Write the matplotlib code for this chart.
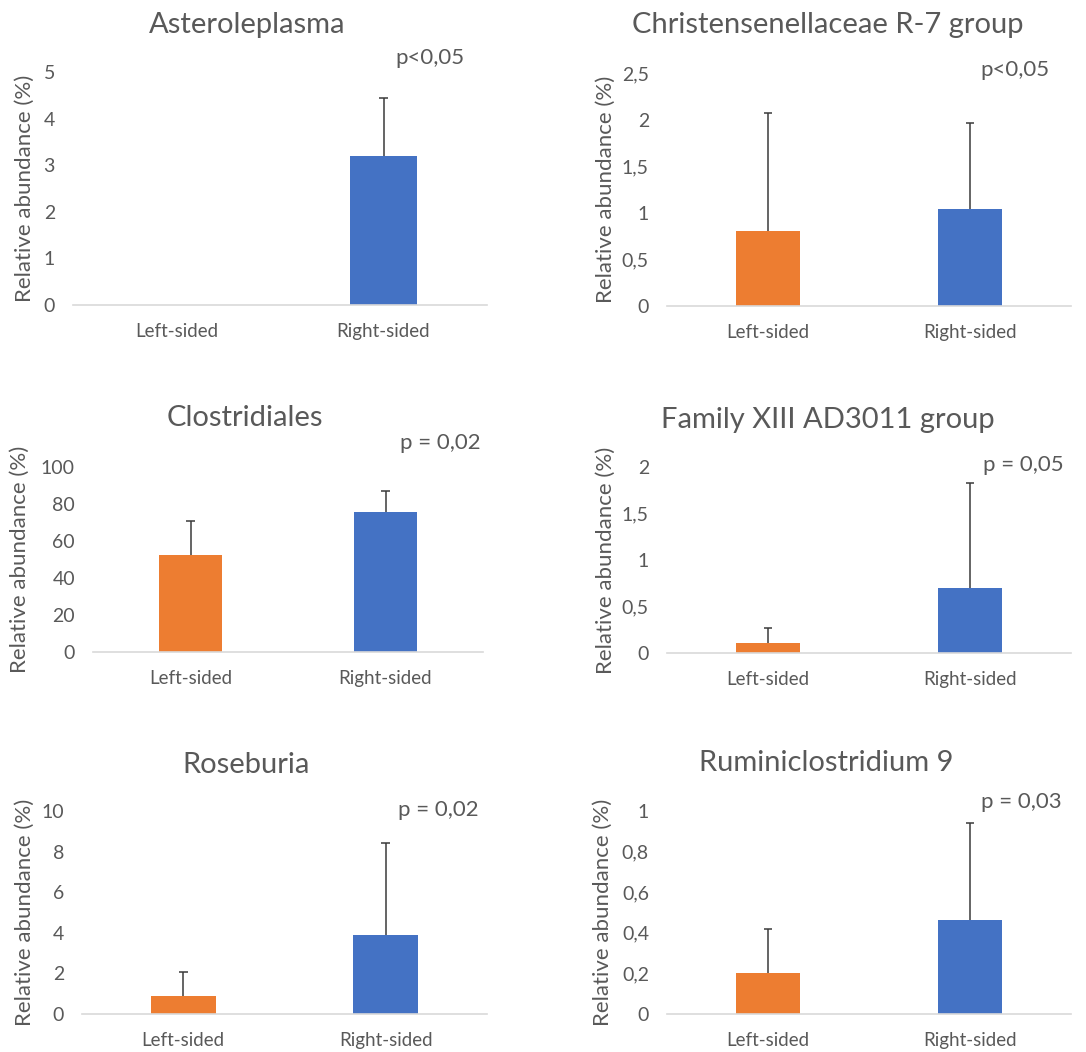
import matplotlib
matplotlib.use("Agg")
import matplotlib.pyplot as plt
from matplotlib.ticker import FuncFormatter, MultipleLocator

plt.rcParams["font.family"] = ["Lato", "DejaVu Sans"]

# taxa and group means / standard deviations (relative abundance, %)
groups = ["Left-sided", "Right-sided"]
taxa = ["Asteroleplasma", "Christensenellaceae R-7 group", "Clostridiales",
        "Family XIII AD3011 group", "Roseburia", "Ruminiclostridium 9"]
left_mean = [0.0, 0.80, 52.4, 0.11, 0.87, 0.20]
left_sd = [0.0, 1.27, 18.4, 0.16, 1.18, 0.22]
right_mean = [3.2, 1.04, 75.7, 0.70, 3.9, 0.465]
right_sd = [1.24, 0.92, 11.3, 1.13, 4.5, 0.475]
p_labels = ["p<0,05", "p<0,05", "p = 0,02", "p = 0,05", "p = 0,02", "p = 0,03"]
y_max = [5, 2.5, 100, 2, 10, 1]
y_step = [1, 0.5, 20, 0.5, 2, 0.2]

ORANGE = "#ED7D31"
BLUE = "#4472C4"
GREY = "#595959"

W, H = 1086, 1052
fig = plt.figure(figsize=(W / 100, H / 100), dpi=100)

# axes boxes in pixels: left, right, top, bottom
boxes = [(73, 487, 72, 305), (667, 1071, 73, 306),
         (93, 483, 467, 652), (667, 1071, 467, 653),
         (82, 487, 811, 1014), (667, 1071, 811, 1014)]
# title centre, y-label x, p-label (left x, centre y)
title_pos = [(247, 25), (828, 25), (245, 418), (828, 420), (246, 765), (826, 763)]
ylab_x = [25, 606, 20, 606, 25, 603]
p_pos = [(395, 58), (980, 70), (400, 443), (983, 465), (398, 810), (981, 802)]


def comma(v, _):
    s = "{:g}".format(round(v, 6))
    return s.replace(".", ",")


for i, name in enumerate(taxa):
    l, r, t, b = boxes[i]
    ax = fig.add_axes([l / W, 1 - b / H, (r - l) / W, (b - t) / H])
    means = [left_mean[i], right_mean[i]]
    sds = [left_sd[i], right_sd[i]]
    ax.bar([0, 1], means, width=0.32, color=[ORANGE, BLUE], zorder=2)
    # upper error bar only, with a cap at the top
    for x, m, s in zip([0, 1], means, sds):
        if s > 0:
            ax.vlines(x, m, m + s, color="#3a3a3a", lw=1.1, zorder=3)
            ax.hlines(m + s, x - 0.022, x + 0.022, color="#3a3a3a", lw=1.1, zorder=3)
    ax.set_xlim(-0.5, 1.5)
    ax.set_ylim(0, y_max[i])
    ax.yaxis.set_major_locator(MultipleLocator(y_step[i]))
    ax.yaxis.set_major_formatter(FuncFormatter(comma))
    ax.set_xticks([0, 1])
    ax.set_xticklabels(groups)
    for side in ["top", "right", "left"]:
        ax.spines[side].set_visible(False)
    ax.spines["bottom"].set_color("#D9D9D9")
    ax.spines["bottom"].set_linewidth(1.2)
    ax.tick_params(axis="both", length=0, colors=GREY)
    ax.tick_params(axis="y", pad=13, labelsize=14)
    ax.tick_params(axis="x", pad=13, labelsize=13.5)

    tx, ty = title_pos[i]
    fig.text(tx / W, 1 - ty / H, name, ha="center", va="center",
             fontsize=21, color=GREY)
    yc = (t + b) / 2
    fig.text(ylab_x[i] / W, 1 - yc / H, "Relative abundance (%)", rotation=90,
             ha="center", va="center", fontsize=16, color=GREY)
    px, py = p_pos[i]
    fig.text(px / W, 1 - py / H, p_labels[i], ha="left", va="center",
             fontsize=16, color=GREY)

fig.savefig("out.png", dpi=100, facecolor="white")
